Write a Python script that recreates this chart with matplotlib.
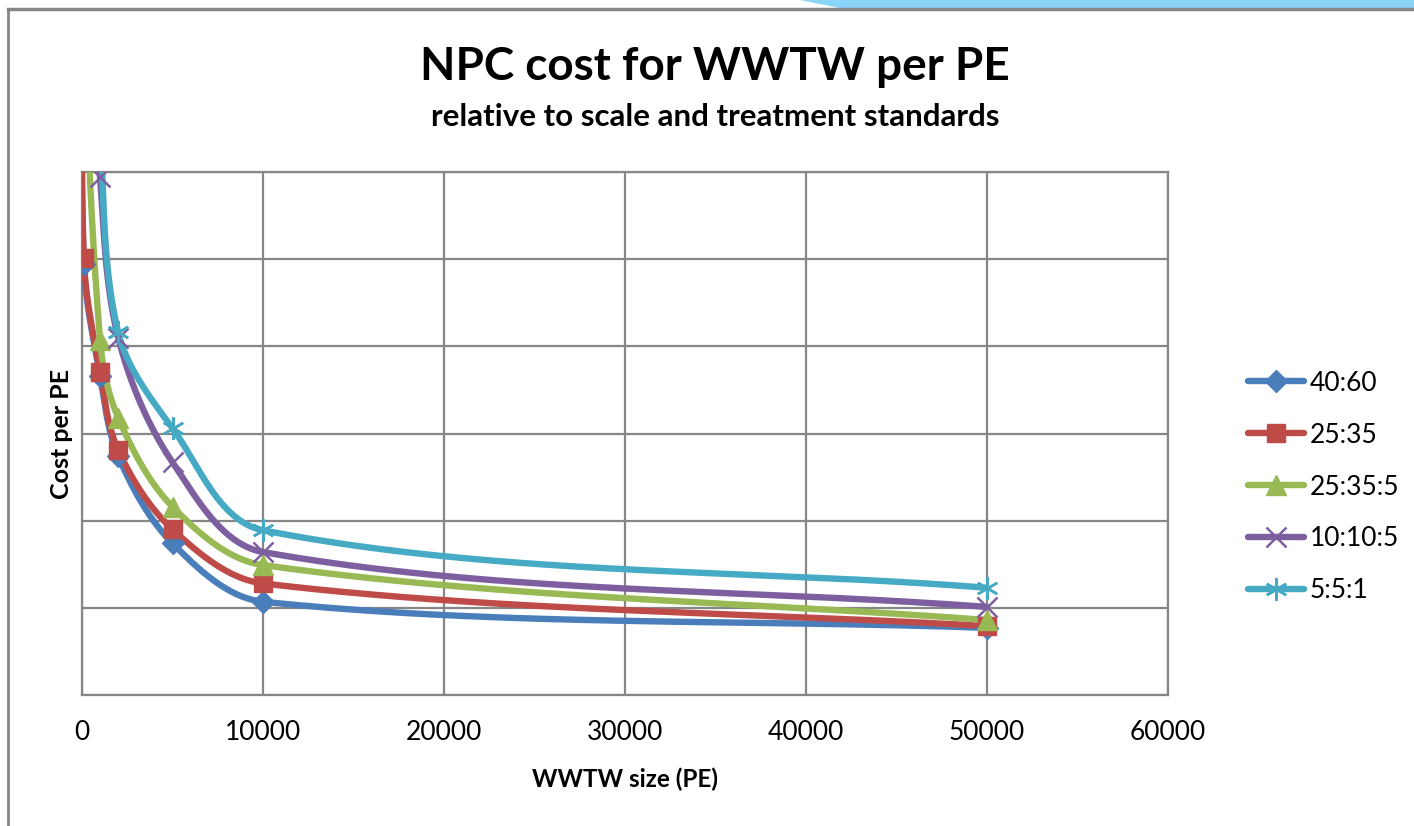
import numpy as np
import matplotlib
matplotlib.use("Agg")
import matplotlib.pyplot as plt
from matplotlib.lines import Line2D
from matplotlib.patches import Polygon

plt.rcParams['font.family'] = ['Lato', 'DejaVu Sans']

# data (y in grid units, axis has no labels; first points lie above the plot)
pe_size = [50, 100, 1000, 2000, 5000, 10000, 50000]
series_names = ["40:60", "25:35", "25:35:5", "10:10:5", "5:5:1"]
cost_40_60 = [9.0, 4.95, 3.66, 2.74, 1.74, 1.07, 0.77]
cost_25_35 = [9.2, 5.01, 3.70, 2.81, 1.90, 1.28, 0.79]
cost_25_35_5 = [12.0, 8.0, 4.07, 3.18, 2.16, 1.49, 0.86]
cost_10_10_5 = [14.0, 9.5, 5.94, 4.10, 2.67, 1.64, 1.01]
cost_5_5_1 = [15.0, 10.5, 6.5, 4.16, 3.06, 1.89, 1.23]

colors = ["#4A7EBB", "#BE4B48", "#98B954", "#7D5FA0", "#46AAC5"]
markers = ["D", "s", "^", "x", (6, 2, 0)]
msizes = [11, 13, 14, 14, 16]

fig = plt.figure(figsize=(14.14, 8.26), dpi=100)
ax = fig.add_axes([82 / 1414, 1 - 695 / 826, (1168 - 82) / 1414, (695 - 172) / 826])
ax.set_xlim(0, 60000)
ax.set_ylim(0, 6)

# smoothed line through the points, computed in screen proportions
w_px = 1168 - 82
h_px = 695 - 172
sx = w_px / 60000
sy = h_px / 6


def unit(v):
    n = np.hypot(*v)
    return v / n if n > 0 else v


def smooth(xs, ys, n=80, k=0.33):
    p = np.column_stack([np.array(xs) * sx, np.array(ys) * sy])
    out = []
    for i in range(len(p) - 1):
        p0 = p[i - 1] if i > 0 else p[i]
        p1, p2 = p[i], p[i + 1]
        p3 = p[i + 2] if i + 2 < len(p) else p[i + 1]
        L = np.hypot(*(p2 - p1))
        c1 = p1 + unit(p2 - p0) * L * k
        c2 = p2 - unit(p3 - p1) * L * k
        t = np.linspace(0, 1, n)[:, None]
        seg = (1 - t) ** 3 * p1 + 3 * (1 - t) ** 2 * t * c1 + 3 * (1 - t) * t ** 2 * c2 + t ** 3 * p2
        out.append(seg)
    c = np.vstack(out)
    return c[:, 0] / sx, c[:, 1] / sy


all_series = [cost_40_60, cost_25_35, cost_25_35_5, cost_10_10_5, cost_5_5_1]
for vals, col, mk, ms in zip(all_series, colors, markers, msizes):
    cx, cy = smooth(pe_size, vals)
    ax.plot(cx, cy, color=col, lw=4.6, solid_capstyle='round', zorder=3)
    mew = 1.8 if mk in ("x", (6, 2, 0)) else 1
    ax.plot(pe_size, vals, ls='none', marker=mk, ms=ms, color=col, mew=mew, zorder=4)

ax.set_xticks(range(0, 60001, 10000))
ax.set_yticks(np.arange(0, 6.01, 1))
ax.set_yticklabels([])
ax.tick_params(axis='y', length=0)
ax.tick_params(axis='x', length=0, labelsize=19, pad=18)
ax.grid(True, color="#868686", lw=1.6)
for s in ax.spines.values():
    s.set_color("#868686")
    s.set_linewidth(1.6)
ax.set_axisbelow(True)

ax.set_xlabel("WWTW size (PE)", fontsize=17.5, fontweight='bold', labelpad=16)
ax.set_ylabel("Cost per PE", fontsize=18, fontweight='bold', labelpad=3)

fig.text(715 / 1414, 1 - 67 / 826, "NPC cost for WWTW per PE", ha='center', va='center',
         fontsize=33, fontweight='bold')
fig.text(715 / 1414, 1 - 117 / 826, "relative to scale and treatment standards", ha='center', va='center',
         fontsize=22.5, fontweight='bold')

handles = [Line2D([], [], color=c, lw=4.6, marker=m, ms=s, mew=1.8 if m in ("x", (6, 2, 0)) else 1,
                  solid_capstyle='round')
           for c, m, s in zip(colors, markers, msizes)]
fig.legend(handles, series_names, loc='center left', bbox_to_anchor=(1224 / 1414, 1 - 487 / 826),
           frameon=False, fontsize=19, handlelength=2.15, handletextpad=0.2, labelspacing=1.02)

# chart frame and slide decoration
fig.add_artist(Polygon([[800 / 1414, 1], [1, 1], [1, 1 - 8 / 826], [840 / 1414, 1 - 8 / 826]],
                       closed=True, transform=fig.transFigure, facecolor="#8AD3F9", edgecolor='none'))
fig.add_artist(Line2D([8 / 1414, 1], [1 - 9 / 826, 1 - 9 / 826], color="#868686", lw=2.5,
                      transform=fig.transFigure))
fig.add_artist(Line2D([8 / 1414, 8 / 1414], [0, 1 - 9 / 826], color="#868686", lw=2,
                      transform=fig.transFigure))

fig.savefig("out.png", dpi=100)
